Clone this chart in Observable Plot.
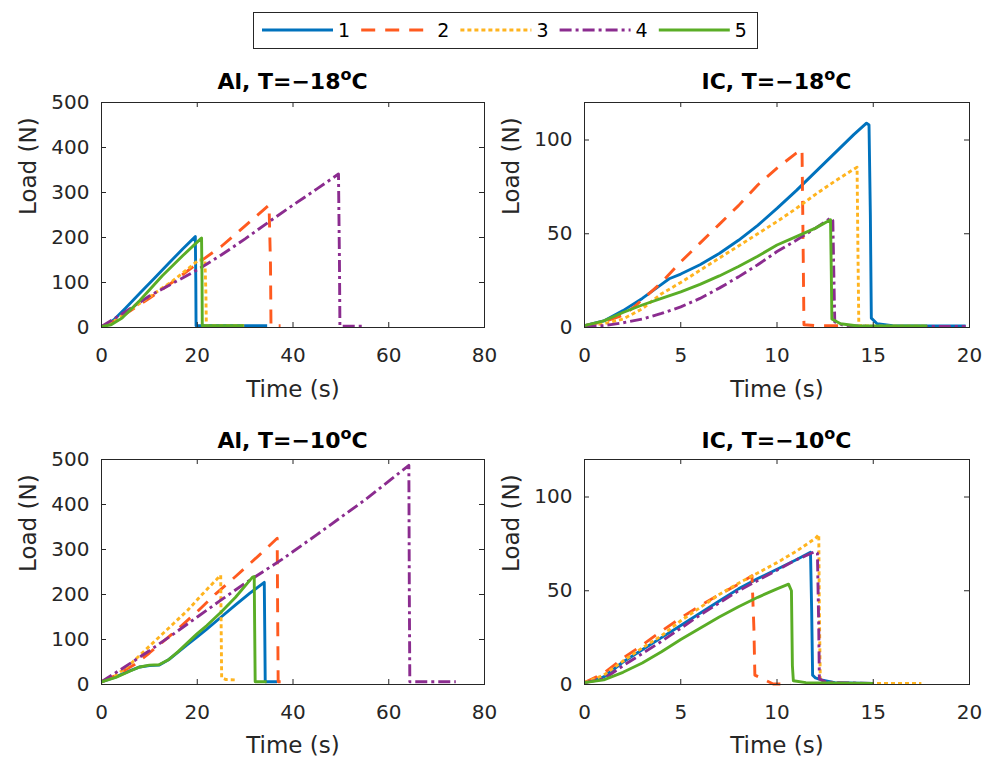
<!DOCTYPE html>
<html><head><meta charset="utf-8">
<script src="https://cdn.jsdelivr.net/npm/d3@7"></script>
<script src="https://cdn.jsdelivr.net/npm/@observablehq/plot@0.6"></script>
<style>
body{margin:0;background:#fff;}
#root{position:relative;width:983px;height:760px;font-family:"DejaVu Sans",sans-serif;color:#262626;overflow:hidden;}
.panel{position:absolute;}
.panel svg{overflow:visible;}
.title{position:absolute;font-weight:bold;font-size:22px;line-height:22px;white-space:nowrap;transform:translateX(-50%);color:#000;}
.title .sup{position:relative;top:-9px;font-size:16px;}
#legend{position:absolute;left:0;top:0;}
</style>
</head><body><div id="root"></div>
<script>
// ---------- data ----------
const seriesNames = ["1", "2", "3", "4", "5"];
const seriesColors = ["#0072BD", "#FF5A1F", "#FFB41F", "#8B2C8F", "#5AAD26"];
const seriesDash = ["none", "14,10", "4,3", "12,4,3,4", "none"];

const panelTitles = [["Al, T=\u221218", "C"], ["IC, T=\u221218", "C"], ["Al, T=\u221210", "C"], ["IC, T=\u221210", "C"]];
const xLabel = "Time (s)";
const yLabel = "Load (N)";

const xTicksAl = [0, 20, 40, 60, 80];
const yTicksAl = [0, 100, 200, 300, 400, 500];
const xTicksIC = [0, 5, 10, 15, 20];
const yTicksIC = [0, 50, 100];

// Al, T=-18
const al18_1 = [[0,2],[1,6],[2,13],[2.6,17],[5,43],[8,76],[11,109],[14,142],[17,175],[19.6,202],[19.7,100],[19.75,4],[22,4],[26,4],[30,4],[34.6,4]];
const al18_2 = [[0,2],[2,10],[5,30],[10,65],[15,102],[20,142],[25,180],[30,226],[35,272],[35.3,140],[35.4,4],[37.4,4]];
const al18_3 = [[0,2],[2,10],[5,32],[10,68],[14.8,103],[18,130],[20.3,150],[21.6,150],[21.8,80],[21.9,4],[25,4],[30,4]];
const al18_4 = [[0,2],[5,35],[10,70],[15,99],[20,128],[25,161],[30,197],[35,235],[40,272],[45,308],[49.5,341],[49.7,150],[49.8,3],[55,3]];
const al18_5 = [[0,2],[2,6],[4.3,21],[8,60],[12.7,115],[17,160],[20.7,197],[20.9,199],[21,100],[21.05,4],[25,4],[29.7,4]];

// IC, T=-18
const ic18_1 = [[0,1],[1,3.5],[2,9],[3,15.5],[4,23],[4.4,26],[5,28.5],[6,33.5],[7,39.5],[8,46.5],[9,54.5],[10,63.5],[11,73],[12,83],[13,93],[14,103],[14.65,109],[14.78,108],[14.85,60],[14.9,5],[15.2,2],[16,1],[18,0.8],[19.8,0.8]];
const ic18_2 = [[0,1],[1,3],[2,6.5],[2.56,10.8],[4,24],[5,35],[6,45],[7,55],[8,65],[9,76],[10,85],[11,93],[11.3,95],[11.35,50],[11.4,1.5],[12,1],[13.3,1]];
const ic18_3 = [[0,1],[1,2],[2,4.5],[3,10],[4,18],[5,24],[6,30.5],[7,37],[8,43.5],[9,50],[10,56.5],[11,63.5],[12,71],[13,78],[14,84.5],[14.16,85.5],[14.2,45],[14.25,1],[15,0.7],[17.8,0.7]];
const ic18_4 = [[0,0.5],[1,1],[2,2.5],[3,4.5],[4,7.5],[5,11],[6,15.5],[7,21],[8,27],[9,33.5],[10,40.5],[11,46.5],[12,53],[12.8,58.5],[12.9,57],[12.95,30],[13,3],[13.5,1],[15,0.6],[19.8,0.6]];
const ic18_5 = [[0,1],[1,3.5],[2,8],[3,12],[4,15.5],[5,19],[6,23],[7,27.5],[8,32.5],[9,38],[10,44],[11,48.5],[12,53],[12.78,57.5],[12.82,30],[12.85,4.5],[13.3,2],[14.2,0.8],[17.8,0.8]];

// Al, T=-10
const al10_1 = [[0,6],[3,17],[6,31],[8,39],[10,42],[12,43],[14,55],[16,72],[18,89],[20,106],[22,123],[25,150],[28,177],[31,203],[34,227],[34.1,120],[34.2,6],[36.7,6]];
const al10_2 = [[0,6],[3,20],[7,45],[10,70],[15.5,119],[20,162],[23.8,201],[28,240],[32.9,287],[36.7,325],[36.8,150],[36.9,6],[38.8,6]];
const al10_3 = [[0,6],[3,20],[6,45],[8,65],[10,85],[12,105],[15,135],[18,165],[21,200],[24.9,243],[25,120],[25.1,15],[26,11],[28.3,10]];
const al10_4 = [[0,6],[5,40],[10,75],[15,112],[20,150],[25,188],[30,225],[37.7,278],[45,333],[55,410],[64.2,487],[64.3,200],[64.4,6],[74,6]];
const al10_5 = [[0,6],[3,16],[6,30],[8,39],[10,43],[12,44],[14,55],[16,73],[18,93],[20,113],[22,131],[25,161],[28,194],[31.5,238],[31.9,240],[32,120],[32.1,6],[34.5,6]];

// IC, T=-10
const ic10_1 = [[0,1],[1,4],[2,12],[3,18.5],[4,25],[5,31.5],[6,38],[7,44.5],[8,51],[9,56.5],[10,61.5],[11,66.5],[11.74,70.5],[11.8,40],[11.85,5],[12,3.5],[12.3,2.5],[13,1],[15,0.6]];
const ic10_2 = [[0,1],[1,6],[2,14],[3,21],[4,28.5],[5,35.5],[6,42],[7,48],[8,53.5],[8.7,58],[8.8,30],[8.85,5],[9.8,0.3],[10.7,0.3]];
const ic10_3 = [[0,1],[1,5],[2,12.5],[3,19.5],[4,26],[5,34],[6,41],[7,48],[8,54],[9,59.5],[10,65],[11,71],[12,78],[12.17,80],[12.2,40],[12.25,1],[13,0.5],[17.5,0.5]];
const ic10_4 = [[0,1],[1,3],[2,10],[3,16.5],[4,23],[5,30],[6,37],[7,43.5],[8,50],[9,55.5],[10,61],[11,66.5],[12,71],[12.1,70],[12.17,30],[12.2,3],[12.5,1.5],[13,1],[15,0.5]];
const ic10_5 = [[0,1],[1,2.5],[2,6.5],[3,11.5],[4,17.5],[5,24],[6,30],[7,36],[8,41.5],[9,46.5],[10,51],[10.6,53.5],[10.75,50],[10.8,10],[10.85,2],[11.5,1],[15,0.5]];

// ---------- layout ----------
const ink = "#262626";
const root = document.getElementById("root");

const panels = [
  {title: panelTitles[0], series: [al18_1, al18_2, al18_3, al18_4, al18_5], xDomain: [0, 80], yDomain: [0, 500], xTicks: xTicksAl, yTicks: yTicksAl, left: 0, top: 40, width: 490, ml: 101, mr: 6, labelDy: 62, titleTop: 71},
  {title: panelTitles[1], series: [ic18_1, ic18_2, ic18_3, ic18_4, ic18_5], xDomain: [0, 20], yDomain: [0, 120], xTicks: xTicksIC, yTicks: yTicksIC, left: 490, top: 40, width: 493, ml: 94, mr: 14, labelDy: 62, titleTop: 71},
  {title: panelTitles[2], series: [al10_1, al10_2, al10_3, al10_4, al10_5], xDomain: [0, 80], yDomain: [0, 500], xTicks: xTicksAl, yTicks: yTicksAl, left: 0, top: 397, width: 490, ml: 101, mr: 6, labelDy: 61, titleTop: 430},
  {title: panelTitles[3], series: [ic10_1, ic10_2, ic10_3, ic10_4, ic10_5], xDomain: [0, 20], yDomain: [0, 120], xTicks: xTicksIC, yTicks: yTicksIC, left: 490, top: 397, width: 493, ml: 94, mr: 14, labelDy: 61, titleTop: 430}
];

const H = 370, MT = 62, MB = 83;
const frameH = H - MT - MB;
const tickLen = 5;

panels.forEach(p => {
  const frameW = p.width - p.ml - p.mr;
  const lines = p.series.map((s, i) => Plot.line(s, {
    x: d => d[0], y: d => d[1],
    stroke: seriesColors[i], strokeWidth: 2.9,
    strokeDasharray: seriesDash[i],
    strokeLinecap: "butt", strokeLinejoin: "round"
  }));
  const chart = Plot.plot({
    width: p.width, height: H,
    marginLeft: p.ml, marginRight: p.mr, marginTop: MT, marginBottom: MB,
    style: {fontFamily: "DejaVu Sans, sans-serif", fontSize: "20px", color: ink, background: "transparent", overflow: "visible"},
    x: {domain: p.xDomain, axis: null},
    y: {domain: p.yDomain, axis: null},
    marks: [
      ...lines,
      Plot.tickX(p.xTicks, {x: d => d, insetTop: frameH - tickLen, stroke: ink, strokeWidth: 1}),
      Plot.tickX(p.xTicks, {x: d => d, insetBottom: frameH - tickLen, stroke: ink, strokeWidth: 1}),
      Plot.tickY(p.yTicks, {y: d => d, insetRight: frameW - tickLen, stroke: ink, strokeWidth: 1}),
      Plot.tickY(p.yTicks, {y: d => d, insetLeft: frameW - tickLen, stroke: ink, strokeWidth: 1}),
      Plot.frame({stroke: ink, strokeWidth: 1}),
      Plot.text(p.xTicks, {x: d => d, frameAnchor: "bottom", dy: 28, text: d => String(d), fontSize: 20, fill: ink, lineAnchor: "middle"}),
      Plot.text(p.yTicks, {y: d => d, frameAnchor: "left", dx: -12, text: d => String(d), fontSize: 20, fill: ink, textAnchor: "end", lineAnchor: "middle"}),
      Plot.text([xLabel], {frameAnchor: "bottom", dy: p.labelDy, text: d => d, fontSize: 23, fill: ink, lineAnchor: "middle"}),
      Plot.text([yLabel], {frameAnchor: "left", dx: -73, rotate: -90, text: d => d, fontSize: 23, fill: ink, lineAnchor: "middle"})
    ]
  });
  const div = document.createElement("div");
  div.className = "panel";
  div.style.left = p.left + "px";
  div.style.top = p.top + "px";
  div.appendChild(chart);
  root.appendChild(div);

  const t = document.createElement("div");
  t.className = "title";
  t.style.left = (p.left + p.ml + frameW / 2) + "px";
  t.style.top = p.titleTop + "px";
  t.innerHTML = p.title[0] + '<span class="sup">o</span>' + p.title[1];
  root.appendChild(t);
});

// ---------- legend ----------
const lg = d3.select(root).append("svg").attr("id", "legend").attr("width", 983).attr("height", 56);
lg.append("rect").attr("x", 253.5).attr("y", 12.5).attr("width", 504).attr("height", 36)
  .attr("fill", "#fff").attr("stroke", ink).attr("stroke-width", 1);
const entryStart = 262, entryStep = 99.2, lineLen = 71, lineY = 30;
seriesNames.forEach((name, i) => {
  const x0 = entryStart + i * entryStep;
  lg.append("line").attr("x1", x0).attr("x2", x0 + lineLen).attr("y1", lineY).attr("y2", lineY)
    .attr("stroke", seriesColors[i]).attr("stroke-width", 2.9)
    .attr("stroke-dasharray", seriesDash[i] === "none" ? null : seriesDash[i]);
  lg.append("text").attr("x", x0 + lineLen + 5).attr("y", lineY + 7)
    .attr("font-family", "DejaVu Sans, sans-serif").attr("font-size", 19).attr("fill", "#000")
    .text(name);
});
</script>
</body></html>
